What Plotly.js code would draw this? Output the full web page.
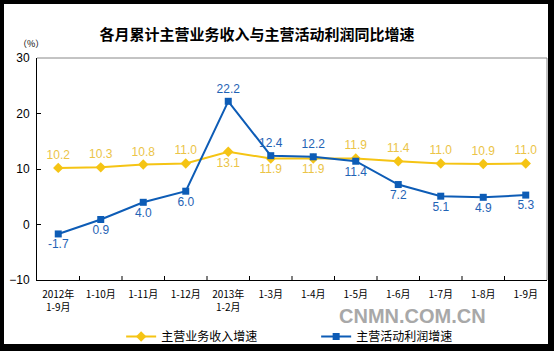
<!DOCTYPE html>
<html><head><meta charset="utf-8">
<script src="https://cdn.plot.ly/plotly-3.0.1.min.js"></script>
<style>
html,body{margin:0;padding:0;background:#000;width:554px;height:351px;overflow:hidden;}
#chart{position:absolute;left:4px;top:4px;width:544px;height:340px;background:#fff;}
</style></head>
<body><div id="chart"></div>
<script>
const categories = ["2012年<br>1-9月","1-10月","1-11月","1-12月","2013年<br>1-2月","1-3月","1-4月","1-5月","1-6月","1-7月","1-8月","1-9月"];
const revenueGrowth = [10.2,10.3,10.8,11.0,13.1,11.9,11.9,11.9,11.4,11.0,10.9,11.0];
const profitGrowth = [-1.7,0.9,4.0,6.0,22.2,12.4,12.2,11.4,7.2,5.1,4.9,5.3];
const revenueName = "主营业务收入增速";
const profitName = "主营活动利润增速";
const revenuePos = ["top center","top center","top center","top center","bottom center","bottom center","bottom center","top center","top center","top center","top center","top center"];
const profitPos = ["bottom center","bottom center","bottom center","bottom center","top center","top center","top center","bottom center","bottom center","bottom center","bottom center","bottom center"];
const xIdx = categories.map((c,i)=>i);

const traces = [
 {x: xIdx, y: revenueGrowth, name: revenueName, type:'scatter', mode:'lines+markers+text',
  line:{color:'#F5C414', width:2}, marker:{symbol:'diamond', size:8, color:'#F5C414'},
  text: revenueGrowth.map(v=>v.toFixed(1)), textposition: revenuePos,
  textfont:{family:'Liberation Sans, Arial', size:12, color:'#EBC447'}, cliponaxis:false},
 {x: xIdx, y: profitGrowth, name: profitName, type:'scatter', mode:'lines+markers+text',
  line:{color:'#0D5CB6', width:2}, marker:{symbol:'square', size:7, color:'#0D5CB6'},
  text: profitGrowth.map(v=>v.toFixed(1)), textposition: profitPos,
  textfont:{family:'Liberation Sans, Arial', size:12, color:'#1F63B5'}, cliponaxis:false}
];

const layout = {
  width:544, height:340,
  margin:{l:33, r:1, t:54, b:64, autoexpand:false},
  paper_bgcolor:'#fff', plot_bgcolor:'#fff',
  showlegend:true,
  title:{text:'各月累计主营业务收入与主营活动利润同比增速', font:{family:'Noto Sans CJK SC', size:15, color:'#000', weight:'bold'},
         xref:'container', x:0.465, xanchor:'center', yref:'container', y:0.91, yanchor:'middle'},
  xaxis:{range:[-0.5,11.5], tickmode:'array', tickvals:xIdx, ticktext:categories,
         showline:true, linecolor:'#000', linewidth:1, ticks:'', showgrid:false, zeroline:false, ticklabelstandoff:5,
         tickfont:{family:'Noto Sans CJK SC', size:10, color:'#000'}, fixedrange:true},
  yaxis:{range:[-10,30], dtick:10, showline:true, linecolor:'#000', linewidth:1, ticks:'inside', ticklen:4, tickcolor:'#000',
         ticklabelstandoff:4,
         showgrid:false, zeroline:false, tickfont:{family:'Liberation Sans, Arial', size:12, color:'#000'}, fixedrange:true},
  shapes: [
    {type:'line', xref:'paper', yref:'paper', x0:0, x1:1, y0:1, y1:1, line:{color:'#888', width:1}},
    {type:'line', xref:'paper', yref:'paper', x0:1, x1:1, y0:0, y1:1, line:{color:'#888', width:1}}
  ].concat(xIdx.slice(1).map(i=>({type:'line', xref:'x', yref:'paper', x0:i-0.5, x1:i-0.5, y0:0, y1:0.018, line:{color:'#000', width:1}}))),
  legend:{orientation:'h', x:0.165, xanchor:'left', yref:'container', y:0.022, yanchor:'middle', entrywidth:150, entrywidthmode:'pixels',
          font:{family:'Noto Sans CJK SC', size:12, color:'#000'}, bgcolor:'rgba(0,0,0,0)'},
  annotations:[
    {text:'（%）', xref:'paper', yref:'paper', x:-0.012, y:1.066, showarrow:false, xanchor:'center', yanchor:'middle',
     font:{family:'Noto Sans CJK SC', size:9, color:'#000'}},
    {text:'CNMN.COM.CN', xref:'paper', yref:'paper', x:0.737, y:-0.163, showarrow:false, xanchor:'center', yanchor:'middle',
     font:{family:'Liberation Sans, Arial', size:20, color:'#A8A8A8', weight:'bold'}}
  ]
};
Plotly.newPlot('chart', traces, layout, {displayModeBar:false, staticPlot:true});
</script></body></html>
